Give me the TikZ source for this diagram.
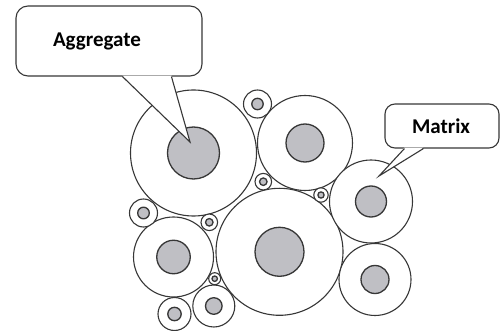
\documentclass[tikz,border=0pt]{standalone}
\usepackage{fontspec}
\setmainfont{Carlito}
\definecolor{edgegray}{RGB}{55,55,55}
\definecolor{coregray}{RGB}{191,191,196}

\tikzset{
  grain/.style={circle, draw=edgegray, line width=1.1pt, fill=white, inner sep=0pt},
  core/.style={circle, draw=edgegray, line width=1.3pt, fill=coregray, inner sep=0pt},
  note/.style={draw=edgegray, line width=1.1pt, fill=white, rounded corners=12pt,
    inner sep=0pt, align=left, font=\bfseries\fontsize{21}{25}\selectfont},
}

% particle: name, centre, outer diameter, core diameter
\newcommand{\particle}[4]{%
  \node[grain, minimum size=#3pt] (#1) at (#2) {};
  \node[core, minimum size=#4pt] (#1-core) at (#1) {};}

\begin{document}
\begin{tikzpicture}[x=1pt, y=-1pt]
  \useasboundingbox (0,0) rectangle (501,331);

  % large particles
  \particle{aggA}{193.5,153}{126}{52}
  \particle{aggB}{305,143}{95}{38}
  \particle{aggC}{279.5,251.8}{127}{49}
  \particle{aggD}{371,201.5}{83}{31}
  \particle{aggE}{375,279.5}{72}{28}
  \particle{aggF}{173.5,257}{80}{33.5}
  \particle{aggH}{213.8,306}{42}{16.6}
  \particle{aggI}{174.5,314}{33}{13.4}

  % small particles in the gaps
  \particle{finG}{143.5,213}{28}{11.6}
  \particle{finS}{257.5,104}{28}{11.4}
  \particle{finAB}{263.3,181.7}{16.6}{7.5}
  \particle{finBD}{321,195}{14.4}{6.2}
  \particle{finAF}{209.3,222.3}{16.6}{7.5}
  \particle{finFH}{214.7,278.7}{12}{5.4}

  % Note: Aggregate
  \node[note, minimum width=186pt, minimum height=70pt, text width=112pt]
    (aggnote) at (109,41) {Aggregate};
  \coordinate (aggtip) at ([shift={(-3.5,-11)}]aggA-core.center);
  \fill[white] ([shift={(107,-1)}]aggnote.south west) -- (aggtip)
    -- ([shift={(156,-1)}]aggnote.south west) -- cycle;
  \draw[edgegray, line width=1.1pt] ([xshift=107pt]aggnote.south west) -- (aggtip)
    -- ([xshift=156pt]aggnote.south west);

  % Note: Matrix
  \node[note, rounded corners=10pt, minimum width=114pt, minimum height=44pt, text width=60pt]
    (matnote) at (442,126) {Matrix};
  \coordinate (mattip) at ([shift={(8,-25.5)}]aggD-core.center);
  \fill[white] ([shift={(20,-1)}]matnote.south west) -- (mattip)
    -- ([shift={(39,-1)}]matnote.south west) -- cycle;
  \draw[edgegray, line width=1.1pt] ([xshift=20pt]matnote.south west) -- (mattip)
    -- ([xshift=39pt]matnote.south west);
\end{tikzpicture}
\end{document}
